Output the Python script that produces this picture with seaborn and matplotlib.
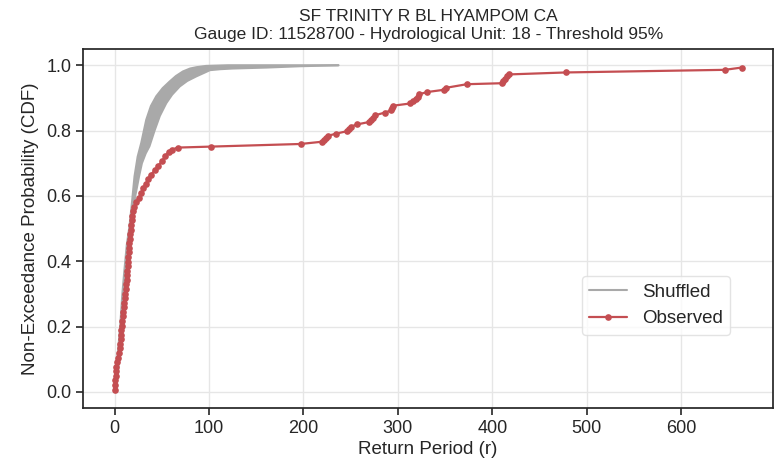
import numpy as np
import pandas as pd
import matplotlib
matplotlib.use("Agg")
import matplotlib.pyplot as plt
import seaborn as sns

# ---------------- data ----------------
title_line1 = "SF TRINITY R BL HYAMPOM CA"
title_line2 = "Gauge ID: 11528700 - Hydrological Unit: 18 - Threshold 95%"

# Observed empirical CDF: return period (x) and non-exceedance probability (y)
obs_x = [0.0, 0.5, 0.9, 1.2, 1.6, 2.1, 2.9, 3.8, 4.7, 5.4, 5.9, 6.4, 6.9, 7.4,
         7.9, 8.4, 8.8, 9.3, 9.8, 10.4, 10.9, 11.4, 11.9, 12.4, 12.8, 13.2,
         13.6, 14.0, 14.3, 14.7, 15.0, 15.3, 15.8, 16.3, 16.8, 17.2, 17.6,
         18.0, 18.6, 19.6, 21.0, 23.0, 26.0, 28.3, 30.6, 33.2, 35.5, 38.5,
         43.0, 46.5, 50.5, 53.5, 57.5, 61.0, 67.0, 102.5,
         197, 220, 222, 224, 226, 235, 246, 248, 250, 257, 269, 272, 274, 276,
         286, 293, 294, 294.5, 313, 316, 319, 321, 322, 331, 349, 351, 373,
         410, 411, 413, 415, 418, 478, 646, 664]
obs_y = [0.007, 0.021, 0.035, 0.049, 0.063, 0.077, 0.091, 0.105, 0.119, 0.133,
         0.147, 0.161, 0.175, 0.189, 0.203, 0.217, 0.231, 0.245, 0.259, 0.273,
         0.287, 0.301, 0.315, 0.329, 0.343, 0.357, 0.371, 0.385, 0.399, 0.413,
         0.427, 0.441, 0.455, 0.469, 0.483, 0.497, 0.511, 0.525, 0.539, 0.553,
         0.567, 0.581, 0.595, 0.609, 0.623, 0.637, 0.651, 0.665, 0.679, 0.693,
         0.707, 0.721, 0.735, 0.742, 0.748, 0.751,
         0.759, 0.766, 0.772, 0.778, 0.784, 0.791, 0.798, 0.805, 0.812, 0.819,
         0.826, 0.833, 0.840, 0.847, 0.855, 0.862, 0.869, 0.876, 0.883, 0.890,
         0.897, 0.904, 0.911, 0.918, 0.925, 0.931, 0.942, 0.945, 0.952, 0.959,
         0.966, 0.972, 0.978, 0.986, 0.993]

# Shuffled ensemble: envelope of the many shuffled CDF curves
shuf_left_x = [0, 3, 6, 8.3, 10.6, 13, 15.9, 18.5, 21.2, 24.5, 28.3, 33.6,
               38.5, 44.2, 51, 58.3, 65, 72.4, 80, 86.6, 97, 120, 237]
shuf_left_y = [0.0, 0.1, 0.2, 0.3, 0.376, 0.45, 0.508, 0.58, 0.66, 0.72,
               0.762, 0.833, 0.875, 0.905, 0.93, 0.95, 0.967, 0.981, 0.99,
               0.994, 0.998, 1.0, 1.0]
shuf_right_x = [1, 5, 8.5, 11, 14, 18, 22, 26, 29, 33, 37, 42.4, 48, 54.8, 61,
                69, 77, 86.6, 95, 101, 112, 125, 161, 196, 237]
shuf_right_y = [0.0, 0.1, 0.2, 0.3, 0.4, 0.5, 0.6, 0.66, 0.70, 0.73, 0.752,
                0.8, 0.845, 0.884, 0.91, 0.935, 0.952, 0.966, 0.977, 0.985,
                0.988, 0.99, 0.993, 0.997, 1.0]

# ---------------- styling ----------------
sns.set_theme(style="ticks")
plt.rcParams["font.family"] = ["Liberation Sans", "DejaVu Sans"]
plt.rcParams.update({
    "axes.grid": True,
    "grid.color": "#e6e6e6",
    "grid.linewidth": 1.0,
    "axes.edgecolor": "#262626",
    "axes.linewidth": 1.25,
    "xtick.color": "#262626",
    "ytick.color": "#262626",
    "text.color": "#262626",
    "axes.labelcolor": "#262626",
})

red = "#c44e52"
gray = "#a9a9a9"

fig = plt.figure(figsize=(7.77, 4.66), dpi=100)
ax = fig.add_axes([0.107, 0.124, 0.888, 0.771])

# shuffled band
ax.fill(np.concatenate([shuf_left_x, shuf_right_x[::-1]]),
        np.concatenate([shuf_left_y, shuf_right_y[::-1]]),
        color=gray, lw=0, zorder=2)
left_df = pd.DataFrame({"x": shuf_left_x, "y": shuf_left_y})
right_df = pd.DataFrame({"x": shuf_right_x, "y": shuf_right_y})
sns.lineplot(data=left_df, x="x", y="y", color=gray, lw=1.5, sort=False,
             estimator=None, ax=ax, label="Shuffled", zorder=2)
sns.lineplot(data=right_df, x="x", y="y", color=gray, lw=1.5, sort=False,
             estimator=None, ax=ax, zorder=2)

# observed
obs_df = pd.DataFrame({"x": obs_x, "y": obs_y})
sns.lineplot(data=obs_df, x="x", y="y", color=red, lw=1.6, marker="o",
             markersize=4.8, markeredgewidth=0, sort=False, estimator=None,
             ax=ax, label="Observed", zorder=3)

ax.margins(x=0.05, y=0.05)
ax.set_xticks([0, 100, 200, 300, 400, 500, 600])
ax.set_yticks([0.0, 0.2, 0.4, 0.6, 0.8, 1.0])
ax.tick_params(axis="both", labelsize=13, length=5, width=1.2)
ax.set_xlabel("Return Period (r)", fontsize=13.5, labelpad=3)
ax.set_ylabel("Non-Exceedance Probability (CDF)", fontsize=13.5, labelpad=5)
ax.set_title(title_line1 + "\n" + title_line2, fontsize=12.5, pad=7,
             linespacing=1.25)

leg = ax.legend(loc="lower right", bbox_to_anchor=(0.9377, 0.204),
                borderaxespad=0, fontsize=13.5, frameon=True, fancybox=True)
leg.get_frame().set_edgecolor("#dddddd")

fig.savefig("out.png", dpi=100)
